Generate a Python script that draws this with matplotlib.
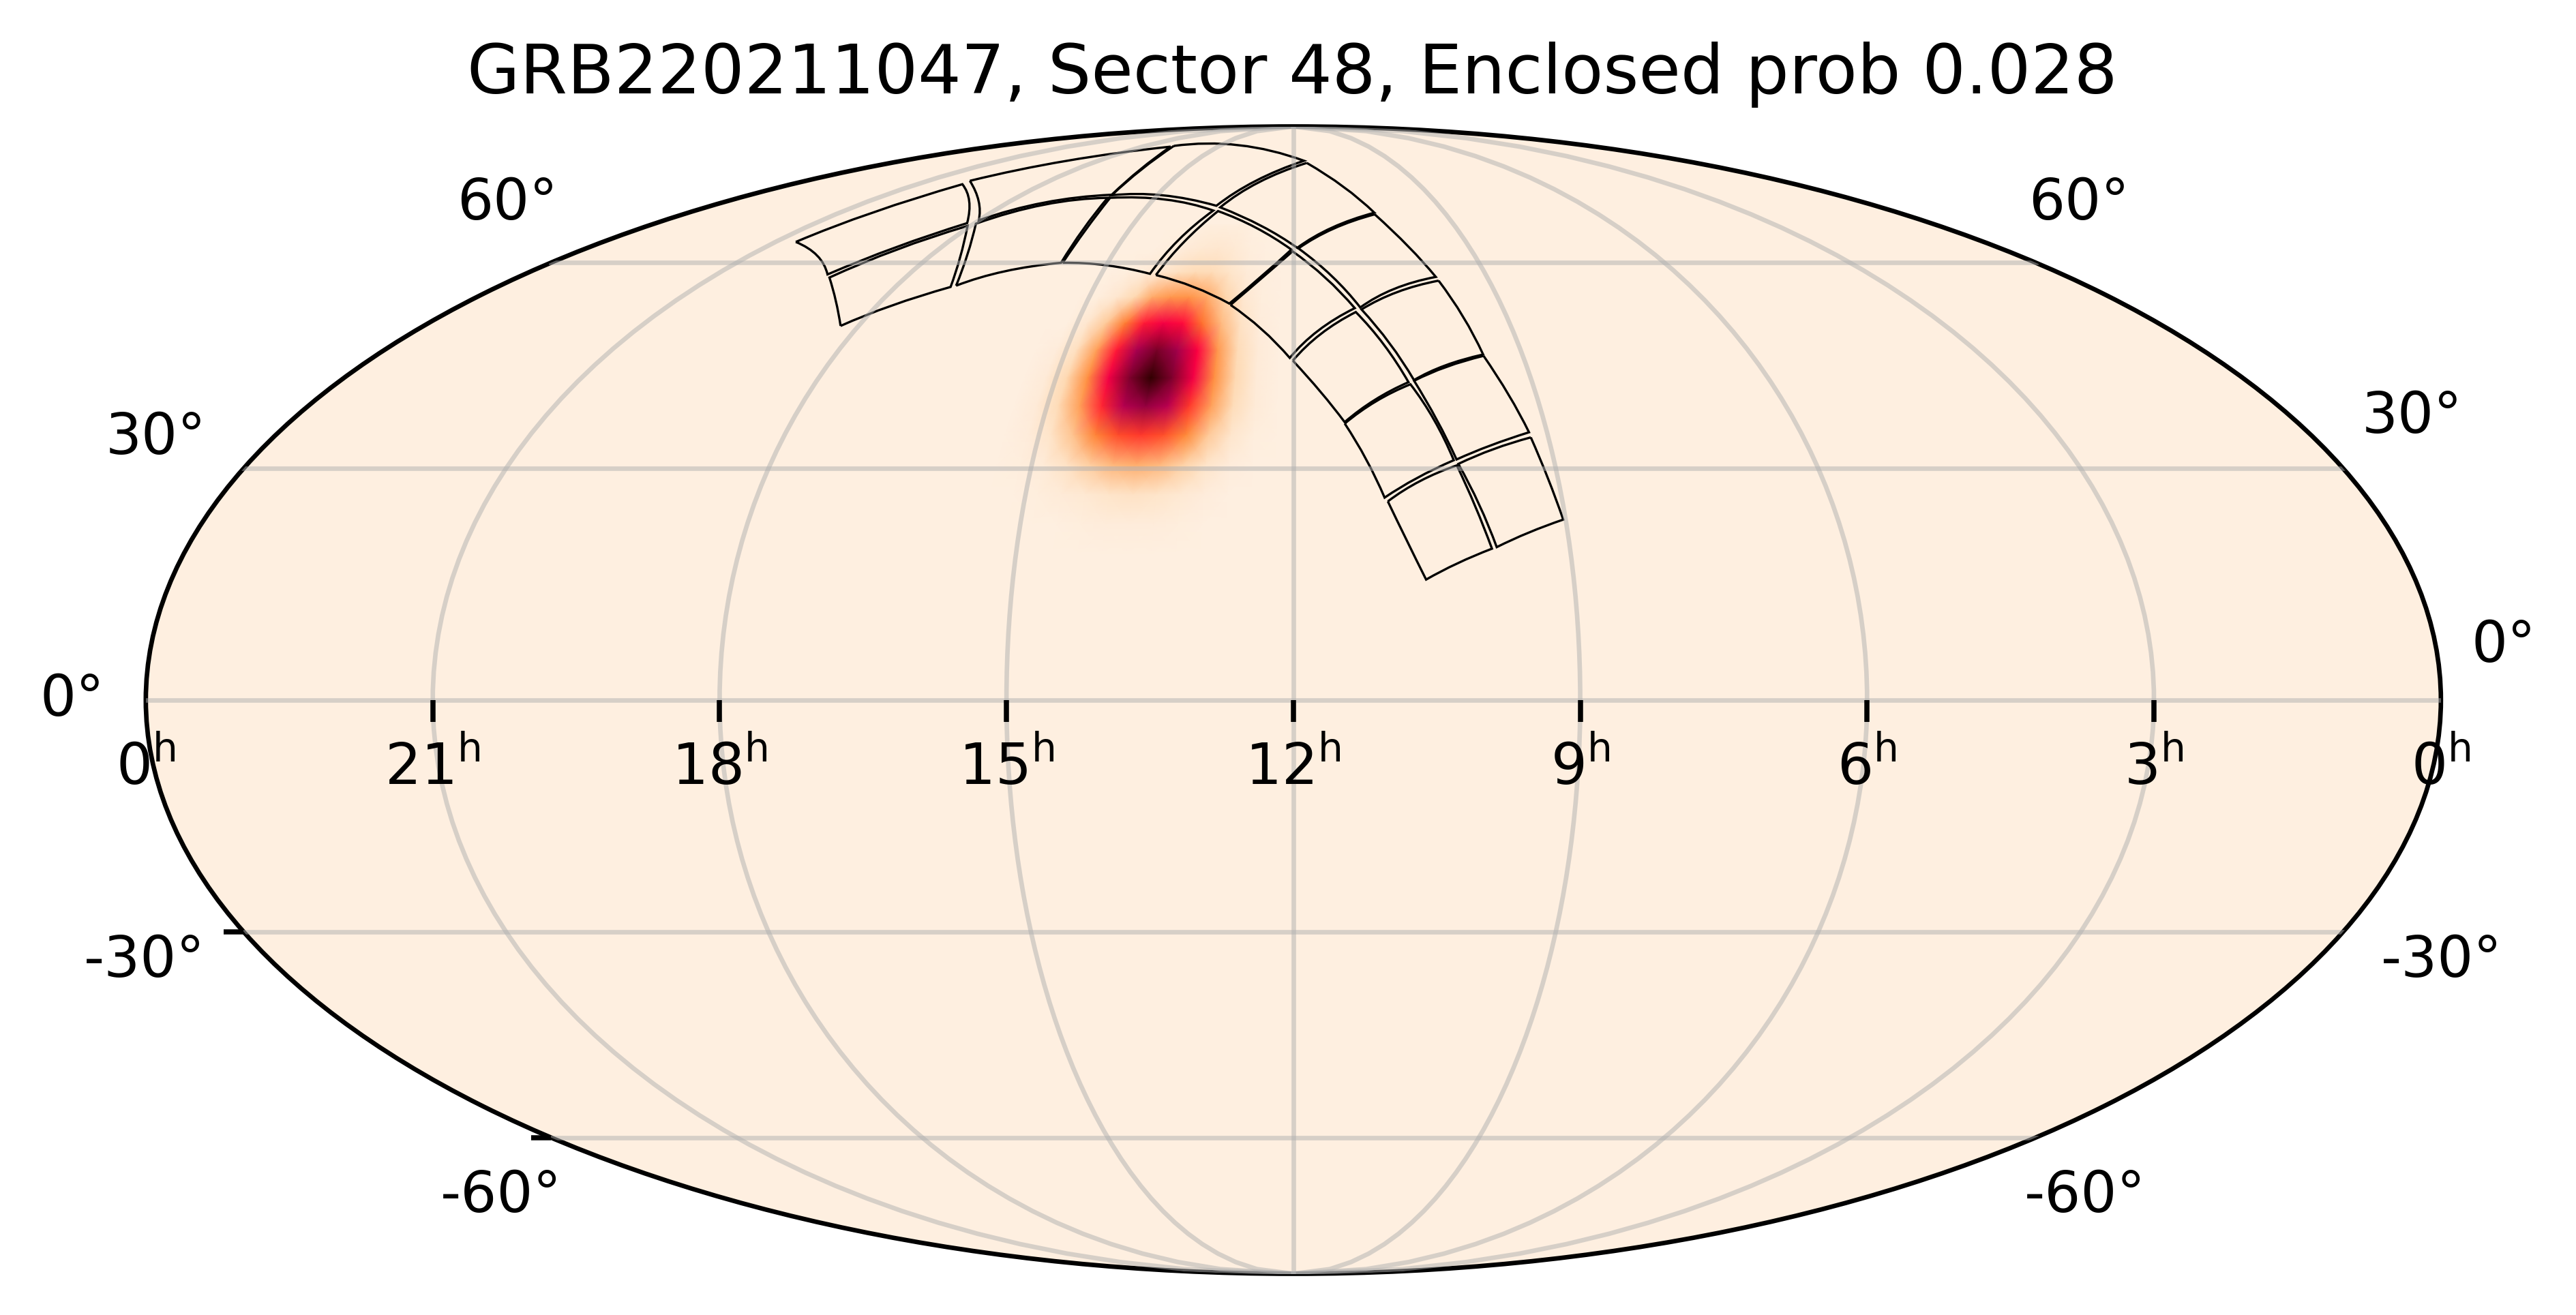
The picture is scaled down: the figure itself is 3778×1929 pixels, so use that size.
import numpy as np
import matplotlib
matplotlib.use('Agg')
import matplotlib.pyplot as plt
from matplotlib.colors import LinearSegmentedColormap
from matplotlib.markers import TICKDOWN, TICKLEFT
from matplotlib.patches import PathPatch
from matplotlib.path import Path
from matplotlib.transforms import IdentityTransform

W, H = 3779, 1929

TITLE = 'GRB220211047, Sector 48, Enclosed prob 0.028'

# tick labels
RA_TICK_LON = [-180, -135, -90, -45, 0, 45, 90, 135, 180]
RA_TICK_HOURS = [0, 21, 18, 15, 12, 9, 6, 3, 0]
DEC_TICK_LEFT = [-30, -60]

# probability map, 1000 = peak
MAP_LON = [-51, -47, -43, -39, -35, -31, -27, -23, -19, -15, -11, -7, -3]
MAP_LAT = [66.5, 62.5, 58.5, 54.5, 50.5, 46.5, 42.5, 38.5, 34.5, 30.5, 26.5, 22.5, 18.5]
PROB = [
    [0, 0, 0, 0, 0, 1, 3, 5, 6, 5, 2, 0, 0],
    [0, 0, 0, 0, 2, 5, 12, 22, 25, 18, 7, 2, 0],
    [0, 0, 0, 4, 12, 25, 45, 60, 55, 35, 15, 4, 0],
    [0, 1, 6, 25, 70, 165, 215, 225, 165, 75, 25, 5, 0],
    [0, 3, 25, 100, 285, 480, 530, 490, 320, 130, 40, 8, 0],
    [1, 8, 50, 195, 480, 760, 860, 770, 510, 215, 62, 14, 2],
    [2, 15, 70, 235, 540, 850, 1000, 850, 540, 235, 70, 15, 2],
    [2, 13, 60, 195, 465, 720, 800, 710, 450, 190, 55, 12, 2],
    [1, 8, 35, 110, 265, 410, 450, 400, 250, 100, 30, 6, 1],
    [1, 4, 15, 42, 90, 140, 160, 135, 85, 35, 10, 2, 0],
    [0, 1, 5, 12, 22, 35, 42, 35, 20, 9, 3, 1, 0],
    [0, 0, 1, 3, 5, 8, 10, 8, 5, 2, 1, 0, 0],
    [0, 0, 0, 0, 0, 0, 0, 0, 0, 0, 0, 0, 0],
]

# CCD outlines in degrees: corner, edge middle, corner, edge middle, ...
CCD_RA = [
    [273.7, 266.8, 257.5, 262.2, 270.8, 280.5, 287.6, 279.9],
    [309.7, 305.2, 298.7, 283.1, 272.1, 281.6, 289.0, 298.2],
    [256.5, 248.2, 236.3, 237.7, 240.3, 257.6, 269.4, 261.2],
    [299.4, 284.3, 253.2, 243.2, 240.2, 258.6, 270.0, 280.1],
    [235.9, 225.1, 213.6, 210.2, 204.1, 221.1, 239.5, 236.9],
    [252.6, 213.6, 175.1, 193.9, 203.8, 223.2, 240.0, 242.7],
    [212.1, 202.5, 193.9, 187.4, 180.5, 190.4, 202.6, 208.5],
    [174.0, 162.4, 155.9, 169.3, 179.0, 188.9, 202.4, 192.6],
    [193.6, 186.5, 180.7, 174.9, 166.8, 172.6, 180.2, 187.0],
    [156.0, 150.5, 146.9, 157.3, 165.6, 171.0, 178.7, 169.0],
    [180.1, 174.9, 170.8, 165.0, 158.3, 161.9, 166.7, 174.4],
    [146.6, 144.2, 142.7, 150.7, 157.2, 160.7, 165.4, 156.8],
    [170.8, 167.4, 164.7, 159.0, 152.3, 154.7, 158.0, 164.8],
    [142.7, 140.1, 138.2, 145.5, 151.8, 154.2, 157.2, 150.5],
    [164.2, 161.5, 158.7, 153.5, 147.7, 149.7, 151.9, 158.5],
    [138.1, 136.7, 135.4, 141.4, 146.9, 149.0, 151.6, 145.1],
]
CCD_DEC = [
    [50.1, 53.2, 56.1, 60.9, 66.3, 62.2, 57.6, 53.9],
    [63.5, 68.8, 74.2, 70.9, 66.8, 62.6, 58.1, 61.2],
    [56.3, 58.6, 60.0, 65.7, 71.5, 70.2, 66.7, 61.4],
    [74.9, 79.3, 82.8, 77.3, 72.1, 70.6, 67.3, 70.9],
    [60.0, 59.6, 58.2, 63.8, 69.1, 71.2, 71.5, 65.6],
    [83.0, 83.2, 79.3, 74.9, 70.0, 72.0, 72.0, 77.3],
    [58.0, 56.1, 53.5, 57.8, 62.2, 66.0, 69.0, 63.5],
    [78.8, 73.7, 68.7, 66.0, 62.5, 66.3, 69.7, 74.6],
    [53.3, 49.6, 45.4, 49.4, 52.8, 57.6, 61.9, 57.7],
    [68.4, 62.7, 57.7, 55.8, 52.9, 57.8, 62.4, 65.8],
    [45.0, 40.5, 36.3, 39.4, 41.9, 47.3, 52.2, 48.9],
    [57.1, 51.5, 45.9, 44.3, 42.2, 47.5, 52.6, 55.3],
    [36.1, 31.2, 26.1, 28.7, 31.1, 36.6, 41.6, 39.2],
    [45.7, 40.1, 34.9, 33.1, 31.2, 36.6, 42.1, 44.1],
    [25.6, 20.5, 15.4, 17.5, 19.4, 25.0, 30.4, 28.3],
    [34.2, 28.7, 23.2, 21.5, 19.6, 25.2, 30.6, 32.6],
]

cmap = LinearSegmentedColormap.from_list('burn', [
    (0.0, '#feefe0'), (0.07, '#fed8b0'), (0.15, '#ffb070'), (0.25, '#ff8a3a'),
    (0.35, '#ff6428'), (0.45, '#ff3a2c'), (0.5, '#ff0040'), (0.62, '#d80050'),
    (0.76, '#a80050'), (0.88, '#700020'), (0.94, '#500000'), (1.0, '#300000')])

plt.rcParams['mathtext.fontset'] = 'dejavusans'
fig = plt.figure(figsize=(W / 600, H / 600), dpi=600)
ax = fig.add_axes([213.7 / W, 1 - 1868.5 / H, 3366.3 / W, 1683 / H], projection='mollweide')
ax.set_facecolor(cmap(0.0))
ax.set_longitude_grid(45)
ax.set_latitude_grid(30)
ax.set_longitude_grid_ends(90)
ax.set_xticklabels([])
ax.set_yticklabels([])
ax.grid(True, alpha=0.5)
ax.set_axisbelow(False)
ax.apply_aspect()

lon_g, lat_g = np.meshgrid(np.radians(MAP_LON), np.radians(MAP_LAT))
ax.pcolormesh(lon_g, lat_g, np.array(PROB) / 1000, shading='gouraud',
              cmap=cmap, vmin=0, vmax=1, zorder=1)

# curved CCD edges, each one passes through its middle point
for ra, dec in zip(CCD_RA, CCD_DEC):
    lonlat = np.column_stack([np.radians(180 - np.array(ra)), np.radians(dec)])
    pts = ax.transData.transform(lonlat)
    n = len(pts)
    verts = [pts[0]]
    codes = [Path.MOVETO]
    for i in range(0, n, 2):
        p0, mid, p1 = pts[i], pts[i + 1], pts[(i + 2) % n]
        verts += [2 * mid - 0.5 * (p0 + p1), p1]
        codes += [Path.CURVE3, Path.CURVE3]
    ax.add_artist(PathPatch(Path(verts, codes), fill=False, edgecolor='k', lw=0.4,
                            transform=IdentityTransform(), zorder=2))

# ticks
ax.plot(np.radians(RA_TICK_LON[1:-1]), np.zeros(7), ls='none', marker=TICKDOWN,
        ms=3.8, mew=0.9, color='k', clip_on=False, zorder=3)
ax.plot(np.full(2, -np.pi), np.radians(DEC_TICK_LEFT), ls='none', marker=TICKLEFT,
        ms=3.5, mew=0.9, color='k', clip_on=False, zorder=3)

for lon, hour in zip(RA_TICK_LON, RA_TICK_HOURS):
    ax.annotate(r'$%d^{\mathrm{h}}$' % hour, xy=(np.radians(lon), 0), xycoords='data',
                xytext=(0, -14.8), textcoords='offset points', ha='center', va='baseline',
                fontsize=10, annotation_clip=False, zorder=5)

# the declination labels do not sit on the frame in the original
for txt, x, y in [('60°', 744, 322), ('30°', 229, 666), ('0°', 106, 1050),
                  ('-30°', 212, 1433), ('-60°', 735, 1778),
                  ('60°', 3049, 322), ('30°', 3538, 635), ('0°', 3672, 971),
                  ('-30°', 3581, 1433), ('-60°', 3058, 1778)]:
    fig.text(x / W, 1 - y / H, txt, ha='center', va='baseline', fontsize=10)

fig.text(1895 / W, 1 - 137 / H, TITLE, ha='center', va='baseline', fontsize=12)

fig.savefig('out.png', dpi=600)
plt.close(fig)
